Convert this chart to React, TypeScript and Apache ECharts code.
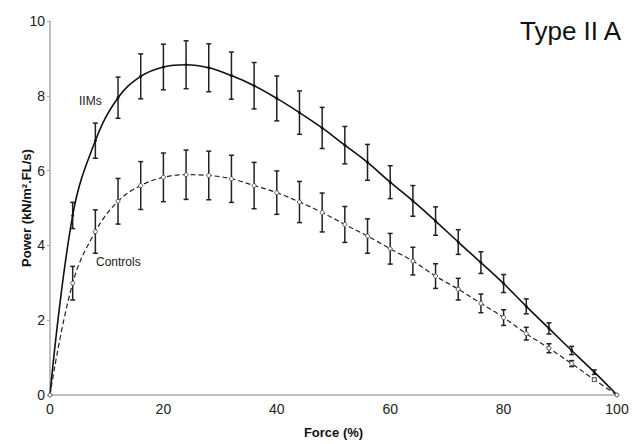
import React, { useEffect, useRef } from "react";
import * as echarts from "echarts";

const force = [0, 4, 8, 12, 16, 20, 24, 28, 32, 36, 40, 44, 48, 52, 56, 60, 64, 68, 72, 76, 80, 84, 88, 92, 96, 100];
const iims = [0, 4.8, 6.8, 7.95, 8.52, 8.77, 8.83, 8.75, 8.54, 8.27, 7.93, 7.55, 7.14, 6.68, 6.22, 5.69, 5.19, 4.65, 4.09, 3.54, 2.98, 2.37, 1.78, 1.19, 0.61, 0];
const iimsErr = [0, 0.35, 0.47, 0.55, 0.6, 0.61, 0.64, 0.64, 0.63, 0.62, 0.6, 0.58, 0.55, 0.5, 0.48, 0.44, 0.41, 0.38, 0.33, 0.29, 0.24, 0.2, 0.15, 0.11, 0.06, 0];
const controls = [0, 2.99, 4.37, 5.18, 5.6, 5.82, 5.89, 5.87, 5.78, 5.6, 5.41, 5.16, 4.88, 4.56, 4.25, 3.91, 3.58, 3.18, 2.83, 2.45, 2.07, 1.64, 1.25, 0.84, 0.41, 0];
const controlsErr = [0, 0.45, 0.58, 0.61, 0.64, 0.65, 0.66, 0.65, 0.63, 0.62, 0.58, 0.55, 0.52, 0.48, 0.46, 0.41, 0.37, 0.33, 0.29, 0.25, 0.21, 0.17, 0.12, 0.08, 0.04, 0];
const yTicks = [0, 2, 4, 6, 8, 10];
const xTicks = [0, 20, 40, 60, 80, 100];

const FONT = "'Liberation Sans', Arial, sans-serif";

function errorBarSeries(vals: number[], errs: number[]) {
  const data = force.map((f, i) => [f, vals[i] - errs[i], vals[i] + errs[i]]).filter((d) => d[2] - d[1] > 0);
  return {
    type: "custom",
    data,
    z: 5,
    silent: true,
    renderItem: (params: any, api: any) => {
      const x = api.value(0);
      const lo = api.coord([x, api.value(1)]);
      const hi = api.coord([x, api.value(2)]);
      const cap = 2.5;
      const style = { stroke: "#222", lineWidth: 1.5 };
      return {
        type: "group",
        children: [
          { type: "line", shape: { x1: lo[0], y1: lo[1], x2: hi[0], y2: hi[1] }, style },
          { type: "line", shape: { x1: lo[0] - cap, y1: lo[1], x2: lo[0] + cap, y2: lo[1] }, style },
          { type: "line", shape: { x1: hi[0] - cap, y1: hi[1], x2: hi[0] + cap, y2: hi[1] }, style },
        ],
      };
    },
  };
}

export default function App() {
  const ref = useRef<HTMLDivElement>(null);
  useEffect(() => {
    if (!ref.current) return;
    const chart = echarts.init(ref.current, undefined, { renderer: "svg" });
    chart.setOption({
      animation: false,
      backgroundColor: "#fff",
      textStyle: { fontFamily: FONT },
      grid: { left: 50, right: 25, top: 21, bottom: 45 },
      xAxis: {
        type: "value",
        min: 0,
        max: 100,
        interval: 20,
        name: "Force (%)",
        nameLocation: "middle",
        nameGap: 31,
        nameMoveOverlap: false,
        nameTextStyle: { fontFamily: FONT, fontWeight: "bold", fontSize: 13, color: "#111" },
        axisLine: { lineStyle: { color: "#aaa", width: 1.5 } },
        axisTick: { show: false },
        splitLine: { show: false },
        axisLabel: {
          fontFamily: FONT,
          fontSize: 14,
          color: "#222",
          margin: 7,
          formatter: (v: number) => (xTicks.includes(v) ? String(v) : ""),
        },
      },
      yAxis: {
        type: "value",
        min: 0,
        max: 10,
        interval: 2,
        name: "Power (kN/m\u00B2.FL/s)",
        nameLocation: "middle",
        nameGap: 17,
        nameMoveOverlap: false,
        nameTextStyle: { fontFamily: FONT, fontWeight: "bold", fontSize: 13, color: "#111" },
        axisLine: { show: true, lineStyle: { color: "#aaa", width: 1.5 } },
        axisTick: { show: true, length: 3, lineStyle: { color: "#aaa" } },
        splitLine: { show: false },
        axisLabel: {
          fontFamily: FONT,
          fontSize: 14,
          color: "#222",
          margin: 5,
          formatter: (v: number) => (yTicks.includes(v) ? String(v) : ""),
        },
      },
      series: [
        errorBarSeries(iims, iimsErr),
        errorBarSeries(controls, controlsErr),
        {
          name: "IIMs",
          type: "line",
          data: force.map((f, i) => [f, iims[i]]),
          smooth: 0.4,
          symbol: "circle",
          symbolSize: 3,
          itemStyle: { color: "#111" },
          lineStyle: { color: "#111", width: 1.6, type: "solid" },
          z: 6,
        },
        {
          name: "Controls",
          type: "line",
          data: force.map((f, i) => [f, controls[i]]),
          smooth: 0.4,
          symbol: "circle",
          symbolSize: 4,
          itemStyle: { color: "#fff", borderColor: "#555", borderWidth: 1 },
          lineStyle: { color: "#222", width: 1.2, type: [5, 3] },
          z: 6,
        },
      ],
      graphic: [
        {
          type: "text",
          left: 520,
          top: 18,
          style: { text: "Type II A", font: `26px ${FONT}`, fill: "#111" },
        },
        {
          type: "text",
          left: 79,
          top: 95,
          style: { text: "IIMs", font: `12px ${FONT}`, fill: "#222" },
        },
        {
          type: "text",
          left: 96,
          top: 256,
          style: { text: "Controls", font: `12px ${FONT}`, fill: "#222" },
        },
      ],
    });
    return () => chart.dispose();
  }, []);
  return <div ref={ref} style={{ position: "fixed", left: 0, top: 0, width: 642, height: 444 }} />;
}
